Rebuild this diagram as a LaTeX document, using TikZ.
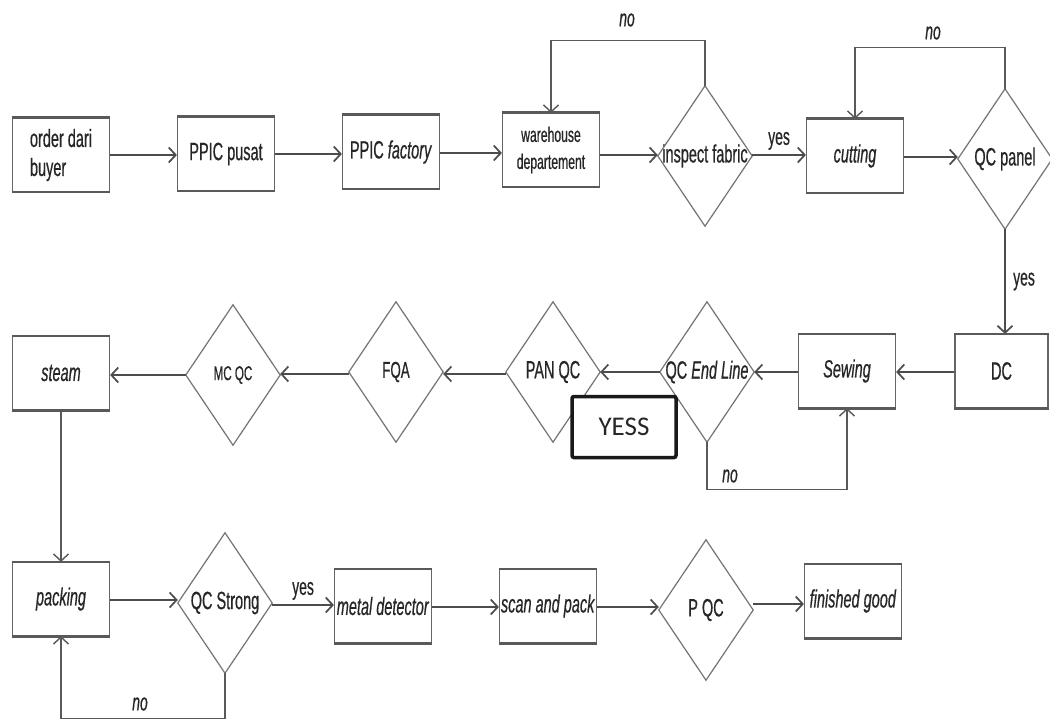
\documentclass[tikz,border=0pt]{standalone}
\usepackage{fontspec}
\setmainfont{Liberation Sans}[FakeStretch=0.58, FakeBold=0.5]
\newfontfamily\yessfont{Carlito}
\usetikzlibrary{arrows.meta}

\begin{document}
\begin{tikzpicture}[x=1pt,y=-1pt,
  every node/.style={font=\fontsize{25}{29}\selectfont, text=black!85},
  box/.style={draw=black!60, line width=1.2pt, minimum width=97pt, minimum height=73pt, inner sep=1pt},
  dia/.style={minimum width=94pt, minimum height=140pt, inner sep=0pt},
  diaedge/.style={draw=black!55, line width=1.2pt, line join=miter},
  boxedge/.style={draw=black!65, line width=2.8pt},
  arr/.style={draw=black!70, line width=1.7pt, -{Straight Barb[length=7pt,width=15pt,line width=1.7pt]}},
  looparr/.style={draw=black!65, line width=1.2pt, -{Straight Barb[length=7pt,width=15pt,line width=1.4pt]}},
  lbl/.style={font=\fontsize{24}{25}\selectfont},
  nolbl/.style={font=\fontsize{24}{25}\selectfont\itshape}
]
\useasboundingbox[fill=white] (0,0) rectangle (1050,722);

% ---- first row ----
\node[box, align=left] (order) at (61,155) {order dari\\buyer};
\node[box] (pusat) at (226,154) {PPIC pusat};
\node[box] (factory) at (391,152) {PPIC \textit{factory}};
\node[box, align=center, font=\fontsize{21}{27}\selectfont] (ware) at (551,150) {warehouse\\departement};
\node[dia] (insp) at (705,156) {inspect fabric};
\node[box] (cut) at (855,156) {\textit{cutting}};
\node[dia] (qcp) at (1005,159) {QC panel};

% ---- second row ----
\node[box, minimum width=93pt] (dc) at (1001.5,371) {DC};
\node[box] (sew) at (847,371) {\textit{Sewing}};
\node[dia] (qce) at (707,372) {QC \textit{End Line}};
\node[dia] (pan) at (553,372) {PAN QC};
\node[dia, font=\fontsize{23}{25}\selectfont] (fqa) at (396,372) {FQA};
\node[dia, font=\fontsize{20}{22}\selectfont] (mcqc) at (233,375) {MC QC};
\node[box] (steam) at (61,373) {\textit{steam}};

% ---- third row ----
\node[box] (pack) at (61,599) {\textit{packing}};
\node[dia] (qcs) at (225,603) {QC Strong};
\node[box] (metal) at (383,606) {\textit{metal detector}};
\node[box] (scan) at (548,606) {\textit{scan and pack}};
\node[dia] (pqc) at (706,610) {P QC};
\node[box] (fin) at (853,601) {\textit{finished good}};

% heavier top and bottom rules of the process boxes
\foreach \n in {order,pusat,factory,ware,cut,dc,sew,steam,pack,metal,scan,fin}
  \draw[boxedge] (\n.north west) -- (\n.north east) (\n.south west) -- (\n.south east);

% decision outlines
\foreach \n in {insp,qcp,qce,pan,fqa,mcqc,qcs,pqc}
  \draw[diaedge] (\n.north) -- (\n.east) -- (\n.south) -- (\n.west) -- cycle;

% ---- main flow (each row kept on one horizontal level) ----
\draw[arr] (order.east |- 0,155) -- (pusat.west |- 0,155);
\draw[arr] (pusat.east |- 0,154) -- (factory.west |- 0,154);
\draw[arr] (factory.east |- 0,153) -- (ware.west |- 0,153);
\draw[arr] (ware.east |- 0,155) -- (insp.west |- 0,155);
\draw[arr] (insp.east |- 0,155) -- node[lbl, above=1pt] {yes} (cut.west |- 0,155);
\draw[arr] (cut.east |- 0,157) -- (qcp.west |- 0,157);
\draw[arr] (qcp.south) -- node[lbl, right=4pt] {yes} (dc.north -| qcp.south);
\draw[arr] (dc.west |- 0,372) -- (sew.east |- 0,372);
\draw[arr] (sew.west |- 0,372) -- (qce.east |- 0,372);
\draw[arr] (qce.west |- 0,372) -- (pan.east |- 0,372);
\draw[arr] (pan.west |- 0,374) -- (fqa.east |- 0,374);
\draw[arr] (fqa.west |- 0,374) -- (mcqc.east |- 0,374);
\draw[arr] (mcqc.west |- 0,375) -- (steam.east |- 0,375);
\draw[looparr] (steam.south) -- (pack.north);
\draw[arr] (pack.east |- 0,600) -- (qcs.west |- 0,600);
\draw[arr] (qcs.east |- 0,605) -- node[lbl, above=1pt] {yes} (metal.west |- 0,605);
\draw[arr] (metal.east |- 0,607) -- (scan.west |- 0,607);
\draw[arr] (scan.east |- 0,607) -- (pqc.west |- 0,607);
\draw[arr] (pqc.east |- 0,604) -- (fin.west |- 0,604);

% ---- rejection loops ----
\draw[looparr] (insp.north) -- ++(0,-45) -| (ware.north);
\node[nolbl] (no1) at (627,20) {no};
\draw[looparr] (qcp.north) -- ++(0,-41) -| (cut.north);
\node[nolbl] (no2) at (933,33) {no};
\draw[looparr] (qce.south) -- ++(0,47) -| (sew.south);
\node[nolbl] (no3) at (730,476) {no};
\draw[looparr] (qcs.south) -- ++(0,45) -| (pack.south);
\node[nolbl] (no4) at (140,704) {no};

% ---- highlighted answer ----
\node[draw=black!90, line width=3.5pt, rounded corners=2pt, fill=white,
      minimum width=104pt, minimum height=61pt,
      font=\yessfont\fontsize{27}{28}\selectfont, text=black!85] (yess) at (624,427) {YESS};
\end{tikzpicture}
\end{document}
